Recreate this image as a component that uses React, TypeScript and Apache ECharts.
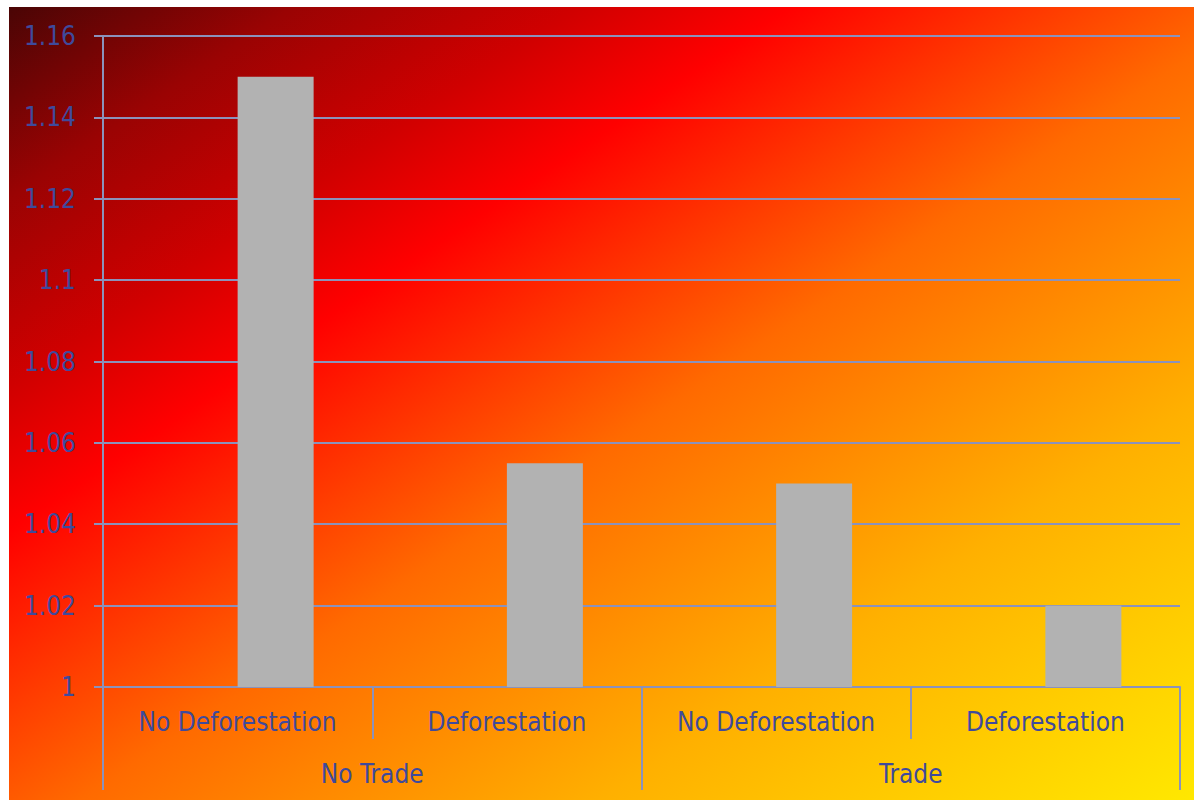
import React, { useEffect, useRef } from "react";
import * as echarts from "echarts";

// Inner categories (per bar) and outer groups
const innerCategories = ["No Deforestation", "Deforestation", "No Deforestation", "Deforestation"];
const outerGroups = ["No Trade", "Trade"];
const values = [1.15, 1.055, 1.05, 1.02];
const emptySeries = [null, null, null, null];

const Y_MIN = 1;
const Y_MAX = 1.16;
const Y_STEP = 0.02;

const FONT = "Tahoma, 'DejaVu Sans Condensed', 'Liberation Sans', sans-serif";
const TEXT_COLOR = "#3f4a9c";
const LINE_COLOR = "#8b92bb";
const BAR_COLOR = "#b2b2b2";

export default function App() {
  const ref = useRef<HTMLDivElement>(null);

  useEffect(() => {
    document.documentElement.style.overflow = "hidden";
    document.body.style.overflow = "hidden";
    if (!ref.current) return;
    const chart = echarts.init(ref.current, null, { renderer: "svg" });
    chart.setOption({
      animation: false,
      backgroundColor: "transparent",
      textStyle: { fontFamily: FONT },
      grid: { left: 94, right: 14, top: 29, bottom: 113, containLabel: false },
      xAxis: [
        {
          type: "category",
          data: innerCategories,
          position: "bottom",
          axisLine: { show: true, lineStyle: { color: LINE_COLOR, width: 2 } },
          axisTick: { show: true, interval: 0, length: 52, lineStyle: { color: LINE_COLOR, width: 2 } },
          axisLabel: {
            interval: 0,
            margin: 22,
            fontSize: 26,
            lineHeight: 26,
            color: TEXT_COLOR,
            fontFamily: FONT,
          },
        },
        {
          type: "category",
          data: outerGroups,
          position: "bottom",
          axisLine: { show: false },
          axisTick: { show: true, interval: 0, length: 103, lineStyle: { color: LINE_COLOR, width: 2 } },
          axisLabel: {
            interval: 0,
            margin: 74,
            fontSize: 26,
            lineHeight: 26,
            color: TEXT_COLOR,
            fontFamily: FONT,
          },
        },
      ],
      yAxis: {
        type: "value",
        min: Y_MIN,
        max: Y_MAX,
        interval: Y_STEP,
        axisLine: { show: true, lineStyle: { color: LINE_COLOR, width: 2 } },
        axisTick: { show: true, length: 9, lineStyle: { color: LINE_COLOR, width: 2 } },
        splitLine: { show: true, lineStyle: { color: LINE_COLOR, width: 2 } },
        axisLabel: {
          margin: 27,
          fontSize: 26,
          color: TEXT_COLOR,
          fontFamily: FONT,
          formatter: (v: number) => String(parseFloat(v.toFixed(2))),
        },
      },
      series: [
        {
          type: "bar",
          xAxisIndex: 0,
          data: emptySeries,
          barWidth: 76,
          barGap: "0%",
          itemStyle: { color: BAR_COLOR },
        },
        {
          type: "bar",
          xAxisIndex: 0,
          data: values,
          barWidth: 76,
          barGap: "0%",
          itemStyle: { color: BAR_COLOR },
        },
      ],
    });
    return () => chart.dispose();
  }, []);

  return (
    <div
      ref={ref}
      style={{
        position: "absolute",
        left: 9,
        top: 7,
        width: 1185,
        height: 793,
        background:
          "linear-gradient(to bottom right, #4a0505 0%, #9a0303 12%, #d00000 24%, #ff0000 33%, #ff4000 45%, #ff6a00 53%, #ffb000 75%, #ffe800 100%)",
      }}
    />
  );
}
